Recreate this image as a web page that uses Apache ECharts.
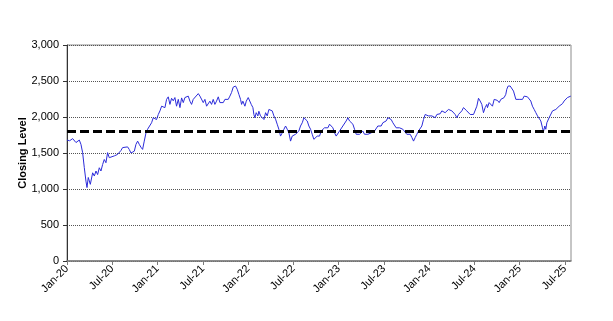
<!DOCTYPE html>
<html>
<head>
<meta charset="utf-8">
<script src="https://cdn.jsdelivr.net/npm/echarts@6/dist/echarts.min.js"></script>
<style>
  html, body { margin: 0; padding: 0; background: #fff; }
  #main { width: 613px; height: 321px; }
</style>
</head>
<body>
<div id="main"></div>
<script>
// x position = months since 1 Jan 2020
var monthsIn = [
  0.00, 0.35, 0.75, 1.19, 1.63, 1.85, 2.07, 2.29, 2.51, 2.65, 2.82, 3.09, 3.40, 3.62, 3.84, 4.06,
  4.28, 4.50, 4.72, 4.94, 5.16, 5.38, 5.60, 5.83, 6.27, 6.70, 7.15, 7.37, 7.60, 8.03, 8.25, 8.48,
  8.69, 8.92, 9.14, 9.36, 9.58, 9.80, 10.02, 10.24, 10.47, 10.68, 10.90, 11.21, 11.43, 11.65, 11.87,
  12.10, 12.32, 12.54, 12.76, 12.98, 13.20, 13.42, 13.64, 13.86, 14.08, 14.30, 14.52, 14.75, 14.97,
  15.19, 15.41, 15.63, 15.85, 16.07, 16.29, 16.51, 16.73, 16.95, 17.40, 17.62, 17.84, 18.06, 18.28,
  18.50, 18.72, 18.94, 19.16, 19.38, 19.60, 19.82, 20.05, 20.27, 20.49, 20.71, 20.93, 21.15, 21.37,
  21.59, 21.81, 22.03, 22.34, 22.56, 22.78, 23.00, 23.14, 23.31, 23.58, 23.76, 24.02, 24.20, 24.42,
  24.64, 24.77, 24.90, 25.08, 25.30, 25.43, 25.65, 25.87, 26.10, 26.32, 26.54, 26.76, 26.98, 27.20,
  27.42, 27.64, 27.86, 28.08, 28.30, 28.53, 28.75, 28.97, 29.19, 29.41, 29.63, 29.85, 30.07, 30.29,
  30.51, 30.73, 30.95, 31.18, 31.40, 31.62, 31.84, 32.06, 32.28, 32.50, 32.72, 32.94, 33.16, 33.38,
  33.47, 33.69, 33.91, 34.13, 34.36, 34.58, 34.80, 35.02, 35.24, 35.46, 35.68, 35.90, 36.12, 36.34,
  36.56, 36.78, 37.00, 37.23, 37.45, 37.67, 37.89, 38.11, 38.33, 38.55, 38.77, 38.99, 39.21, 39.43,
  39.66, 39.88, 40.10, 40.32, 40.54, 40.76, 40.98, 41.20, 41.42, 41.64, 41.86, 42.08, 42.30, 42.53,
  42.75, 42.97, 43.19, 43.41, 43.63, 43.85, 44.07, 44.29, 44.51, 44.60, 45.04, 45.26, 45.49, 45.71,
  45.93, 46.15, 46.37, 46.59, 46.81, 47.03, 47.25, 47.47, 47.69, 47.91, 48.14, 48.36, 48.58, 48.80,
  49.02, 49.24, 49.46, 49.68, 49.90, 50.12, 50.34, 50.56, 50.79, 51.01, 51.23, 51.45, 51.67, 51.89,
  52.11, 52.33, 52.55, 52.77, 52.99, 53.21, 53.44, 53.66, 53.88, 54.10, 54.32, 54.54, 54.76, 54.98,
  55.20, 55.42, 55.64, 55.73, 55.95, 56.17, 56.39, 56.62, 56.84, 57.06, 57.28, 57.50, 57.72, 57.94,
  58.16, 58.29, 58.47, 58.74, 58.91, 59.18, 59.35, 59.49, 59.71, 59.93, 60.15, 60.37, 60.59, 60.81,
  61.03, 61.25, 61.47, 61.69, 61.92, 62.14, 62.36, 62.58, 62.80, 63.02, 63.15, 63.33, 63.46, 63.60,
  63.77, 63.90, 64.12, 64.35, 64.57, 64.79, 65.01, 65.23, 65.45, 65.67, 65.89, 66.11, 66.33, 66.55,
  66.77
];
var closeLevel = [
  1680, 1670, 1700, 1645, 1680, 1620, 1505, 1300, 1110, 1020, 1160, 1065, 1225, 1180, 1250, 1200,
  1295, 1250, 1340, 1410, 1365, 1505, 1435, 1410, 1460, 1480, 1535, 1575, 1550, 1585, 1550, 1500,
  1480, 1525, 1620, 1665, 1620, 1580, 1550, 1665, 1780, 1830, 1850, 1920, 1990, 1995, 1965,
  2035, 2085, 2150, 2175, 2130, 2245, 2280, 2175, 2260, 2225, 2270, 2150, 2245, 2130,
  2265, 2200, 2270, 2245, 2290, 2220, 2175, 2245, 2270, 2325, 2290, 2280, 2200, 2245,
  2150, 2130, 2220, 2175, 2245, 2175, 2220, 2280, 2200, 2220, 2200, 2245, 2270, 2245,
  2290, 2340, 2415, 2430, 2385, 2315, 2245, 2175, 2220, 2150, 2220, 2270, 2245, 2175,
  2130, 2035, 1990, 2060, 2015, 2080, 2015, 2035, 1965, 2060, 2015, 2105, 2130, 2085,
  2015, 1970, 1900, 1830, 1735, 1780, 1830, 1875, 1830, 1780, 1665, 1735, 1710, 1760,
  1735, 1805, 1875, 1920, 1990, 2015, 1945, 1875, 1830, 1760, 1690, 1665, 1735, 1710,
  1735, 1805, 1780, 1850, 1875, 1850, 1900, 1875, 1850, 1780, 1735, 1760, 1805, 1830,
  1875, 1900, 1945, 1990, 1945, 1920, 1900, 1830, 1760, 1735, 1760, 1780, 1805, 1760,
  1780, 1760, 1735, 1780, 1760, 1805, 1830, 1875, 1900, 1875, 1920, 1900, 1945, 1990,
  2000, 1965, 1920, 1900, 1850, 1875, 1850, 1830, 1830, 1805, 1760, 1780, 1760, 1715,
  1665, 1715, 1760, 1805, 1830, 1875, 1965, 2035, 2060, 2015, 1990, 2015, 2035, 1990,
  2035, 2060, 2045, 2085, 2105, 2060, 2085, 2105, 2130, 2085, 2105, 2035, 1990, 2035,
  2060, 2085, 2130, 2105, 2085, 2060, 2035, 2015, 2035, 2060, 2150, 2260, 2222, 2175,
  2060, 2130, 2175, 2130, 2200, 2222, 2150, 2245, 2222, 2230, 2200, 2245, 2222, 2270,
  2315, 2385, 2430, 2430, 2410, 2360, 2340, 2245, 2270, 2245, 2222, 2245, 2290, 2305,
  2280, 2290, 2222, 2150, 2105, 2060, 2015, 2035, 1945, 1850, 1795, 1875, 1830, 1920,
  1945, 1990, 2015, 2085, 2060, 2105, 2130, 2150, 2140, 2185, 2222, 2245, 2270, 2260,
  2290
];
var referenceLevel = 1800;
var tickLabels = ['Jan-20', 'Jul-20', 'Jan-21', 'Jul-21', 'Jan-22', 'Jul-22',
  'Jan-23', 'Jul-23', 'Jan-24', 'Jul-24', 'Jan-25', 'Jul-25'];
var lastMonth = 66.8;

var chart = echarts.init(document.getElementById('main'));

var points = monthsIn.map(function (m, i) {
  return [m, closeLevel[i]];
});

var font = 'Arial, "Liberation Sans", sans-serif';

var option = {
  animation: false,
  grid: {
    left: 67,
    right: 42,
    top: 45,
    bottom: 60,
    show: true,
    borderColor: '#8c8c8c',
    borderWidth: 1
  },
  xAxis: {
    type: 'value',
    min: 0,
    max: lastMonth,
    interval: 6,
    axisLine: { show: true, lineStyle: { color: '#7a7a7a', width: 1.5 } },
    axisTick: { show: true, length: 4, lineStyle: { color: '#7a7a7a' } },
    splitLine: { show: false },
    axisLabel: {
      rotate: 45,
      margin: 6,
      color: '#000',
      fontSize: 11,
      fontFamily: font,
      showMaxLabel: false,
      formatter: function (v) {
        var idx = Math.round(v / 6);
        return Math.abs(v - idx * 6) < 0.01 ? (tickLabels[idx] || '') : '';
      }
    }
  },
  yAxis: {
    type: 'value',
    min: 0,
    max: 3000,
    interval: 500,
    name: 'Closing Level',
    nameLocation: 'middle',
    nameGap: 39,
    nameMoveOverlap: false,
    nameTextStyle: { fontSize: 11, fontWeight: 'bold', color: '#000', fontFamily: font },
    axisLine: { show: true, lineStyle: { color: '#333', width: 1 } },
    axisTick: { show: true, length: 4, lineStyle: { color: '#333' } },
    splitLine: { show: true, lineStyle: { color: '#555', type: [1, 1], width: 1 } },
    axisLabel: {
      color: '#000',
      fontSize: 11,
      fontFamily: font,
      margin: 8,
      formatter: function (v) {
        return v.toLocaleString('en-US');
      }
    }
  },
  series: [
    {
      type: 'line',
      data: points,
      showSymbol: false,
      lineStyle: { color: '#2b2bd9', width: 1 },
      markLine: {
        silent: true,
        symbol: 'none',
        label: { show: false },
        lineStyle: { color: '#000', type: [9, 4], width: 3 },
        data: [{ yAxis: referenceLevel }]
      }
    }
  ]
};

chart.setOption(option);
</script>
</body>
</html>
